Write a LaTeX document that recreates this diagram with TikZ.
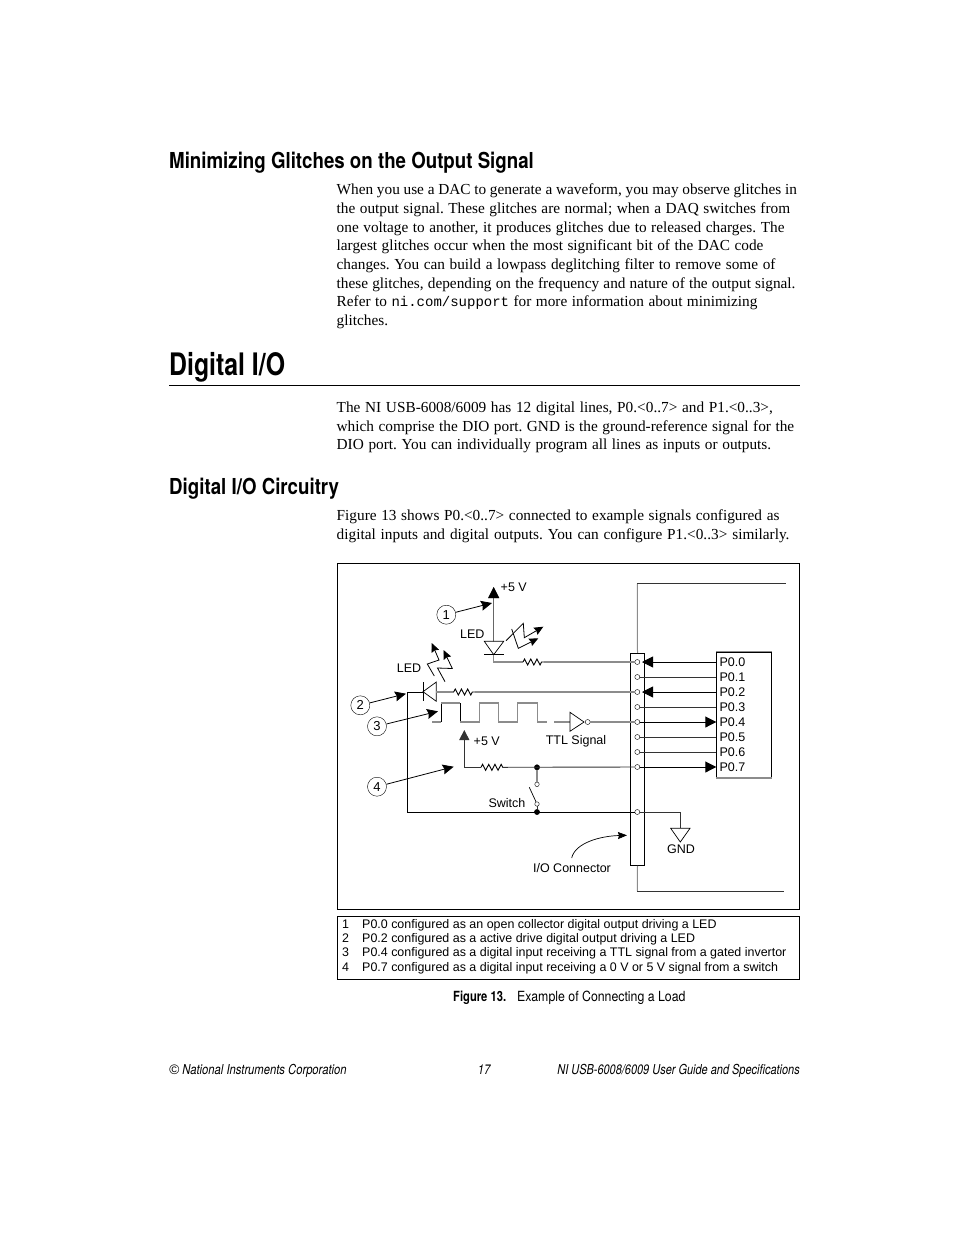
\documentclass[tikz,border=0pt]{standalone}
\usepackage{fontspec}
\setmainfont{Liberation Serif}
\setsansfont{Liberation Sans}
\setmonofont{Liberation Mono}
\newfontfamily\headfont[FakeStretch=0.8]{TeX Gyre Heros}
\newfontfamily\subheadfont[FakeStretch=0.85]{TeX Gyre Heros}
\newfontfamily\capfont[FakeStretch=0.88]{TeX Gyre Heros}
\newfontfamily\footfont[FakeStretch=0.82]{TeX Gyre Heros}
\usetikzlibrary{arrows.meta,decorations.pathmorphing}
\colorlet{wiregray}{black!45}
\newcommand{\fitline}[2]{\makebox[#1pt][s]{#2}}
\frenchspacing
\begin{document}
\begin{tikzpicture}[
    x=1pt,y=-1pt,
    lbl/.style={inner sep=0pt,font=\sffamily\fontsize{12.5}{12.5}\selectfont},
    body/.style={inner sep=0pt,anchor=north west,align=left,font=\fontsize{15.3}{18.7}\selectfont},
    head/.style={inner sep=0pt,anchor=base west,font=\subheadfont\bfseries\fontsize{22}{22}\selectfont},
    foot/.style={inner sep=0pt,font=\footfont\itshape\fontsize{13.7}{13.7}\selectfont},
    iopin/.style={draw,fill=white,circle,inner sep=0pt,minimum size=5pt},
    dot/.style={draw,fill,circle,inner sep=0pt,minimum size=5.3pt},
    callout/.style={draw,circle,inner sep=0pt,minimum size=19pt,font=\sffamily\fontsize{13}{13}\selectfont},
    wire/.style={line width=.9pt,black!80},
    gwire/.style={line width=1.4pt,wiregray},
    res/.style={line width=.9pt,decorate,decoration={zigzag,segment length=6.2pt,amplitude=3pt}},
    tip/.style={-{Stealth[length=11pt,width=10pt,inset=1.5pt]},line width=.8pt},
    bigtip/.style={-{Triangle[length=11pt,width=11pt]},line width=.9pt},
    flash/.style={-{Stealth[length=9pt,width=8pt,inset=1pt]},line width=.8pt},
  ]
  \useasboundingbox (0,0) rectangle (954,1235);

  % page text
  \node[head] (h1) at (169,168) {Minimizing Glitches on the Output Signal};
  \node[body] (p1) at (336.5,183.7) {\fitline{460.2}{When you use a DAC to generate a waveform, you may observe glitches in}\\
    \fitline{453.5}{the output signal. These glitches are normal; when a DAQ switches from}\\
    \fitline{447.8}{one voltage to another, it produces glitches due to released charges. The}\\
    \fitline{426.8}{largest glitches occur when the most significant bit of the DAC code}\\
    \fitline{438.8}{changes. You can build a lowpass deglitching filter to remove some of}\\
    \fitline{458.8}{these glitches, depending on the frequency and nature of the output signal.}\\
    \fitline{420.8}{Refer to {\ttfamily\fontsize{14}{18.7}\selectfont ni.com/support} for more information about minimizing}\\
    glitches.};
  \node[head,font=\headfont\bfseries\fontsize{31}{31}\selectfont] (h2) at (169,375) {Digital I/O};
  \draw[line width=.9pt] (169,385.5) coordinate (ruleL) -- (800,385.5) coordinate (ruleR);
  \node[body] (p2) at (336.5,401.5) {\fitline{436.2}{The NI USB-6008/6009 has 12 digital lines, P0.<0..7> and P1.<0..3>,}\\
    \fitline{457.5}{which comprise the DIO port. GND is the ground-reference signal for the}\\
    \fitline{434.5}{DIO port. You can individually program all lines as inputs or outputs.}};
  \node[head] (h3) at (169,494) {Digital I/O Circuitry};
  \node[body] (p3) at (336.5,510) {\fitline{442.8}{Figure 13 shows P0.<0..7> connected to example signals configured as}\\
    \fitline{452.8}{digital inputs and digital outputs. You can configure P1.<0..3> similarly.}};

  % figure frame
  \draw[line width=.9pt] (337.5,563.5) rectangle (799.5,909.5);

  % connector and port
  \node[draw,line width=.9pt,fill=white,inner sep=0pt,minimum width=13.5pt,minimum height=212pt] (conn) at (637.5,759.3) {};
  \node[draw,line width=.9pt,inner sep=0pt,minimum width=54.5pt,minimum height=125.7pt] (port) at (744,714.8) {};
  \draw[gwire] (port.north west) -- (port.north east);
  \draw[gwire] (port.south west) -- (port.south east);
  \foreach \i [count=\n from 0] in {662,677,692,707,722,737,752,767} {
    \node[iopin] (pin\n) at (637.3,\i) {};
    \node[lbl,anchor=west,inner xsep=3pt] (lab\n) at (port.west |- 0,\i) {P0.\n};
  }
  \node[iopin] (pingnd) at (637.3,812) {};
  \foreach \n in {1,3,5,6} \draw[wire] (lab\n) -- (pin\n);
  \foreach \n in {0,2} \draw[bigtip,shorten >=2pt] (lab\n) -- (pin\n);
  \foreach \n in {4,7} \draw[bigtip] (pin\n) -- (lab\n);

  % cable ends
  \coordinate (capA) at (637.3,583.5);
  \coordinate (capB) at (785.5,583.5);
  \coordinate (capC) at (637.3,891);
  \coordinate (capD) at (783.5,891);
  \draw[gwire,line width=1pt] (conn.north) -- (capA);
  \draw[wire] (capA) -- (capB);
  \draw[gwire,line width=1pt] (conn.south) -- (capC);
  \draw[wire] (capC) -- (capD);

  % callouts
  \node[callout] (c1) at (446.3,614.7) {1};
  \node[callout] (c2) at (360.3,705.3) {2};
  \node[callout] (c3) at (377,726.3) {3};
  \node[callout] (c4) at (377,786.7) {4};
  \coordinate (t1) at (492,603);
  \coordinate (t2) at (406,693.7);
  \coordinate (t3) at (438,711.3);
  \coordinate (t4) at (453.7,766.7);
  \foreach \i in {1,...,4} \draw[tip] (c\i) -- (t\i);

  % led 1
  \coordinate (v1) at (493.7,587);
  \coordinate (led1) at (493.7,655);
  \coordinate (r1a) at (523,662);
  \coordinate (r1b) at (544,662);
  \node[lbl,anchor=base west] (vlab1) at (500.5,591) {+5 V};
  \node[lbl] (ledlab1) at (472.3,634) {LED};
  \draw[-{Triangle[length=11pt,width=11pt]},line width=1pt,black!60] (led1) -- (v1);
  \fill (v1) -- ++(-5.5,11) -- ++(11,0) -- cycle;
  \draw[line width=.7pt,fill=white] (484.3,641.3) -- (503.7,641.3) -- (493.7,654.7) -- cycle;
  \draw[line width=.8pt] (484,654.7) -- (503.7,654.7);
  \draw[gwire,line width=1.1pt] (led1) |- (r1a);
  \draw[res] (r1a) -- (r1b);
  \draw[gwire] (r1b) -- (pin0);
  \draw[flash] (506,640.7) -- (523.3,623.3) -- (524.3,637.7) -- (543.3,626.7);
  \draw[flash] (511.7,629) -- (518.3,648.3) -- (538.3,638.3);

  % led 2
  \coordinate (r2a) at (453.7,692);
  \coordinate (r2b) at (475.3,692);
  \node[lbl] (ledlab2) at (409,668) {LED};
  \draw[line width=.9pt] (pingnd) -| (407.7,692) -- (423,692);
  \draw[line width=.7pt,fill=white] (436.3,682) -- (436.3,701.3) -- (423,691.7) -- cycle;
  \draw[line width=.8pt] (423,682) -- (423,701.3);
  \draw[gwire,line width=1.1pt] (436.3,692) -- (r2a);
  \draw[res] (r2a) -- (r2b);
  \draw[gwire] (r2b) -- (pin2);
  \draw[flash] (434.3,676) -- (427.3,664) -- (439,660) -- (431.7,643);
  \draw[flash] (445,681.7) -- (437.5,668) -- (452.3,668.5) -- (443.5,650);

  % ttl signal
  \draw[gwire,line width=1.2pt] (432,722) -- (441.3,722);
  \draw[line width=1pt] (441.3,722) -- (441.3,703);
  \draw[gwire,line width=1.2pt] (441.3,703) -- (460.3,703);
  \draw[line width=1pt] (460.3,703) -- (460.3,722);
  \draw[gwire,line width=1.2pt] (460.3,722) -- (479.7,722) -- (479.7,703) -- (498.7,703) -- (498.7,722) -- (517.7,722) -- (517.7,703) -- (537.3,703) -- (537.3,722) -- (547,722);
  \draw[gwire,line width=1.2pt] (554.3,722) -- (570,722);
  \draw[line width=.7pt,fill=white] (570,712.3) -- (570,731.3) -- (584,722) -- cycle;
  \node[iopin,minimum size=5pt] (inv) at (587.7,722) {};
  \draw[gwire] (inv) -- (pin4);
  \node[lbl] (ttl) at (576,741.5) {TTL Signal};

  % switch input
  \coordinate (v2) at (464.3,767.3);
  \coordinate (r3a) at (481,767.3);
  \coordinate (r3b) at (502.7,767.3);
  \node[lbl,anchor=base west] (vlab2) at (473.5,745.5) {+5 V};
  \draw[line width=1pt,black!80,-{Triangle[length=10pt,width=10pt]}] (v2) -- (464.3,730);
  \draw[wire] (v2) -- (r3a);
  \draw[res] (r3a) -- (r3b);
  \node[dot] (d1) at (537,767.3) {};
  \draw[wire] (r3b) -- (pin7);
  \node[dot] (d2) at (537,812) {};
  \node[iopin,minimum size=4.5pt] (s1) at (537,784.3) {};
  \node[iopin,minimum size=4.5pt] (s2) at (537,804) {};
  \draw[gwire] (d1) -- (s1);
  \draw[wire] (s2) -- (d2);
  \draw[line width=.7pt] (529.3,787.3) -- (s2);
  \node[lbl] (sw) at (507,803) {Switch};

  % ground
  \coordinate (gnda) at (680.7,812);
  \coordinate (gndb) at (680.7,828);
  \draw[wire] (pingnd) -- (gnda) -- (gndb);
  \draw[line width=.7pt] (670.7,828.3) -- (690,828.3) -- (680.3,842) -- cycle;
  \node[lbl] (gnd) at (681,849) {GND};

  % connector pointer
  \node[lbl] (iolab) at (572,868) {I/O Connector};
  \coordinate (iotip) at (627,835.3);
  \draw[-{Stealth[length=9pt,width=7pt,inset=1pt]},line width=.7pt] (571.7,858) .. controls (575,843) and (600,836) .. (iotip);

  % legend
  \draw[line width=.9pt] (337.5,916.5) rectangle (799.5,979.5);
  \foreach \n/\y/\t in {1/928/P0.0 configured as an open collector digital output driving a LED,
      2/942/P0.2 configured as a active drive digital output driving a LED,
      3/956/P0.4 configured as a digital input receiving a TTL signal from a gated invertor,
      4/971/P0.7 configured as a digital input receiving a 0 V or 5 V signal from a switch} {
    \node[lbl,anchor=base west,font=\sffamily\fontsize{12.45}{12.45}\selectfont] (num\n) at (342,\y) {\n};
    \node[lbl,anchor=base west,font=\sffamily\fontsize{12.45}{12.45}\selectfont] (leg\n) at (362,\y) {\t};
  }

  % caption and footer
  \node[foot,anchor=base west,font=\headfont\bfseries\fontsize{14}{14}\selectfont] (figno) at (453,1001) {Figure 13.};
  \node[foot,anchor=base west,font=\capfont\fontsize{14}{14}\selectfont] (figcap) at (517,1001) {Example of Connecting a Load};
  \node[foot,anchor=base west] (fl) at (169,1074) {{\sffamily\itshape ©} National Instruments Corporation};
  \node[foot,anchor=base] (fc) at (484,1074) {17};
  \node[foot,anchor=base east,font=\headfont\itshape\fontsize{13.7}{13.7}\selectfont] (fr) at (800,1074) {NI USB-6008/6009 User Guide and Specifications};
\end{tikzpicture}
\end{document}
